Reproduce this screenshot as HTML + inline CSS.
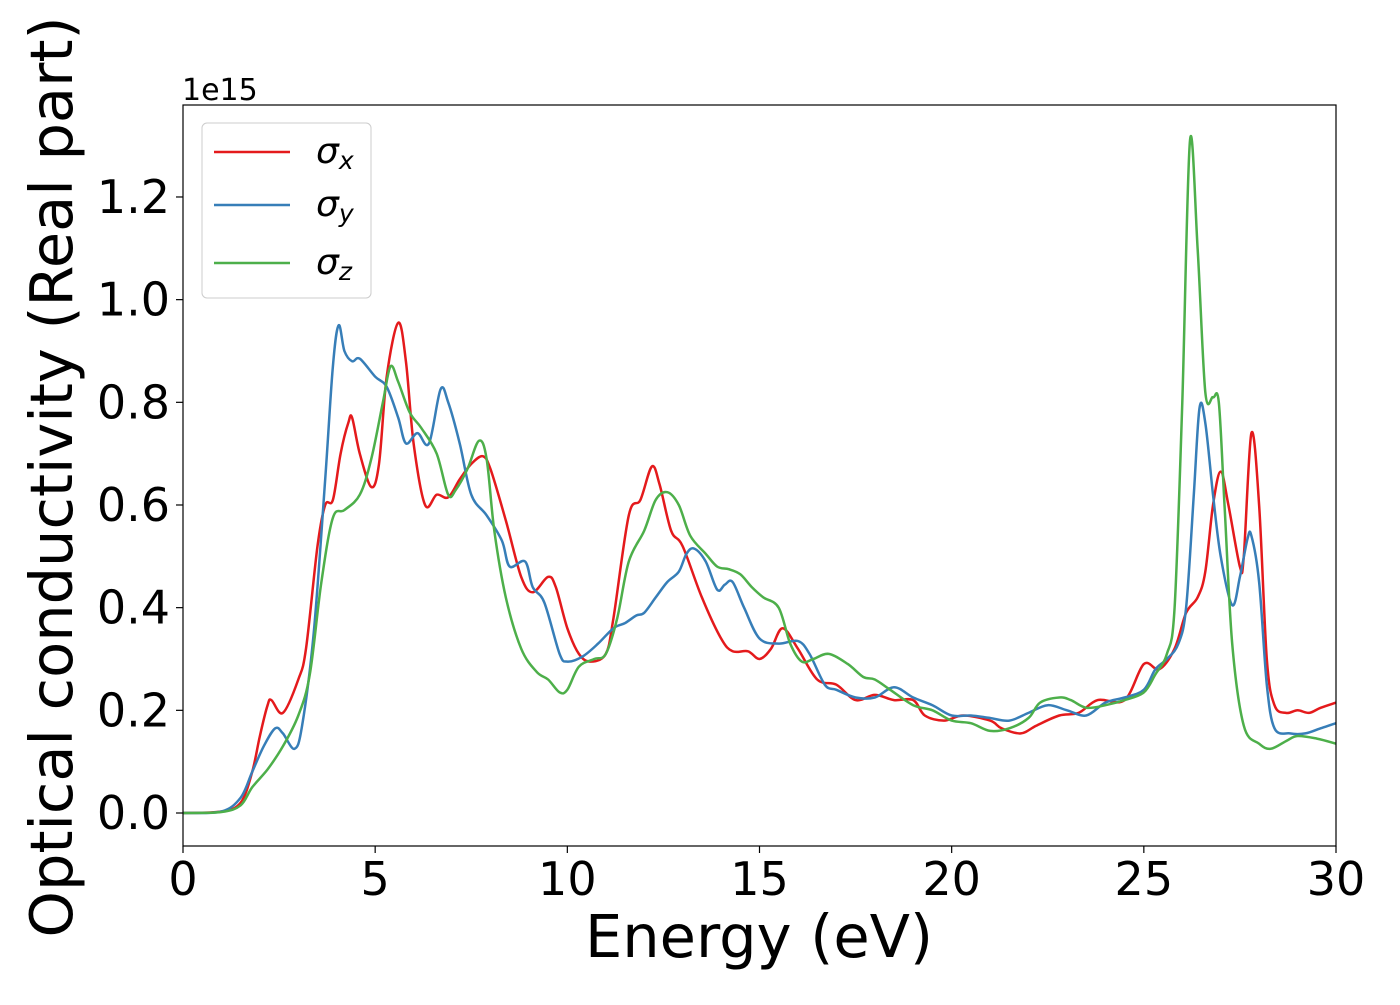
<!DOCTYPE html>
<html><head><meta charset="utf-8"><style>
body{margin:0;background:#fff;}
svg text{font-family:"DejaVu Sans","Liberation Sans",sans-serif;fill:#000;}
</style></head><body>
<svg id="chart" width="1400" height="1000" xmlns="http://www.w3.org/2000/svg">
<g id="plot"></g>
</svg>
<script>
const xTicks=[0,5,10,15,20,25,30];
const yTicks=[0,0.2,0.4,0.6,0.8,1.0,1.2];
const yTickLabels=["0.0","0.2","0.4","0.6","0.8","1.0","1.2"];
const seriesNames=["σx","σy","σz"];
const energyX=[0,1,1.5,1.8,2.0,2.2,2.3,2.6,3.0,3.2,3.5,3.7,3.9,4.1,4.3,4.4,4.6,4.9,5.1,5.3,5.6,5.8,6.0,6.3,6.6,6.9,7.2,7.5,7.8,8.0,8.4,8.8,9.1,9.5,9.7,10.0,10.3,10.6,11.0,11.2,11.6,11.9,12.2,12.4,12.7,13.0,13.5,14.0,14.3,14.7,15.0,15.3,15.6,16.0,16.5,17.0,17.5,18.0,18.5,19.0,19.3,19.8,20.3,21.0,21.3,21.8,22.2,22.8,23.3,23.8,24.5,25.0,25.4,25.8,26.1,26.4,26.6,26.8,27.0,27.2,27.5,27.6,27.8,28.0,28.2,28.4,28.7,29.0,29.3,29.6,30];
const sigmaX=[0,0.003,0.02,0.08,0.15,0.21,0.22,0.195,0.26,0.32,0.52,0.60,0.61,0.70,0.76,0.77,0.70,0.635,0.68,0.85,0.955,0.88,0.72,0.60,0.62,0.615,0.65,0.68,0.695,0.67,0.57,0.46,0.43,0.46,0.44,0.36,0.31,0.295,0.31,0.38,0.58,0.61,0.675,0.64,0.55,0.52,0.42,0.34,0.315,0.315,0.30,0.32,0.36,0.32,0.26,0.25,0.22,0.23,0.22,0.22,0.19,0.18,0.19,0.18,0.165,0.155,0.17,0.19,0.195,0.22,0.22,0.29,0.28,0.32,0.39,0.42,0.47,0.60,0.665,0.60,0.48,0.50,0.74,0.60,0.30,0.21,0.195,0.20,0.195,0.205,0.215];
const energyY=[0,1,1.5,1.8,2.1,2.4,2.6,2.9,3.1,3.4,3.7,3.9,4.05,4.2,4.4,4.6,5.0,5.3,5.6,5.8,6.1,6.4,6.7,6.9,7.2,7.5,7.9,8.3,8.5,8.9,9.1,9.4,9.8,10.0,10.4,10.8,11.2,11.5,11.8,12.0,12.3,12.6,12.9,13.1,13.3,13.6,13.9,14.1,14.3,14.6,15.0,15.5,16.0,16.3,16.7,17.0,17.5,18.0,18.5,19.0,19.5,20.0,20.5,21.0,21.5,22.0,22.5,23.0,23.5,24.0,24.5,25.0,25.3,25.6,25.9,26.1,26.3,26.45,26.6,26.8,27.0,27.3,27.5,27.7,27.8,28.0,28.2,28.4,28.8,29.2,29.6,30];
const sigmaY=[0,0.003,0.03,0.08,0.13,0.165,0.155,0.125,0.17,0.35,0.65,0.87,0.95,0.90,0.88,0.885,0.85,0.83,0.77,0.72,0.74,0.72,0.825,0.80,0.72,0.62,0.58,0.53,0.48,0.49,0.44,0.41,0.31,0.295,0.305,0.33,0.36,0.37,0.385,0.39,0.42,0.45,0.47,0.505,0.515,0.49,0.435,0.445,0.45,0.40,0.34,0.33,0.335,0.31,0.25,0.24,0.225,0.225,0.245,0.225,0.21,0.19,0.19,0.185,0.18,0.195,0.21,0.20,0.19,0.215,0.225,0.24,0.28,0.30,0.33,0.40,0.62,0.79,0.76,0.62,0.50,0.405,0.46,0.535,0.54,0.45,0.25,0.165,0.155,0.155,0.165,0.175];
const energyZ=[0,1,1.5,1.8,2.2,2.6,3.0,3.3,3.6,3.9,4.2,4.6,4.9,5.2,5.4,5.6,5.9,6.2,6.6,6.9,7.1,7.4,7.7,7.9,8.1,8.4,8.8,9.2,9.5,9.8,10.0,10.3,10.7,11.0,11.3,11.6,12.0,12.3,12.6,12.9,13.2,13.6,13.9,14.2,14.5,14.8,15.1,15.5,15.8,16.1,16.4,16.8,17.3,17.7,18.0,18.4,19.0,19.5,20.0,20.5,21.0,21.5,22.0,22.3,22.8,23.1,23.5,24.0,24.5,25.0,25.3,25.6,25.8,26.0,26.2,26.4,26.6,26.8,26.95,27.1,27.3,27.6,28.0,28.3,28.7,29.0,29.5,30];
const sigmaZ=[0,0.002,0.015,0.05,0.085,0.13,0.19,0.27,0.45,0.575,0.59,0.62,0.69,0.80,0.87,0.84,0.78,0.75,0.70,0.62,0.63,0.67,0.725,0.69,0.55,0.42,0.32,0.275,0.26,0.235,0.24,0.285,0.30,0.31,0.38,0.49,0.55,0.61,0.625,0.60,0.54,0.505,0.48,0.475,0.465,0.44,0.42,0.40,0.33,0.295,0.30,0.31,0.29,0.265,0.26,0.24,0.21,0.20,0.18,0.175,0.16,0.165,0.185,0.215,0.225,0.22,0.205,0.21,0.22,0.235,0.27,0.31,0.40,0.80,1.31,1.10,0.82,0.81,0.80,0.60,0.33,0.17,0.135,0.125,0.14,0.15,0.145,0.135];

const L=183,R=1336,T=105,B=846;
const xs=v=>L+(v-0)/30*(R-L);
const ys=v=>813-v/0.2*102.67;
const NS="http://www.w3.org/2000/svg";
const svg=document.getElementById('chart');
function mk(tag,attrs,parent){const e=document.createElementNS(NS,tag);for(const k in attrs)e.setAttribute(k,attrs[k]);(parent||svg).appendChild(e);return e;}
function pathD(xa,ya){
  const p=xa.map((x,i)=>[xs(x),ys(ya[i])]);
  let d="M"+p[0][0].toFixed(1)+","+p[0][1].toFixed(1);
  for(let i=0;i<p.length-1;i++){
    const p0=p[i-1]||p[i],p1=p[i],p2=p[i+1],p3=p[i+2]||p2;
    const c1=[p1[0]+(p2[0]-p0[0])/6,p1[1]+(p2[1]-p0[1])/6];
    const c2=[p2[0]-(p3[0]-p1[0])/6,p2[1]-(p3[1]-p1[1])/6];
    d+=" C"+c1[0].toFixed(1)+","+c1[1].toFixed(1)+" "+c2[0].toFixed(1)+","+c2[1].toFixed(1)+" "+p2[0].toFixed(1)+","+p2[1].toFixed(1);
  }
  return d;
}
const plot=document.getElementById('plot');
const defs=mk('defs',{});
const cp=mk('clipPath',{id:'clip'},defs);
mk('rect',{x:L,y:T,width:R-L,height:B-T},cp);
const g=mk('g',{'clip-path':'url(#clip)'},plot);
const colors=["#e41a1c","#377eb8","#4daf4a"];
const sets=[[energyX,sigmaX],[energyY,sigmaY],[energyZ,sigmaZ]];
const names=['sigma-x-line','sigma-y-line','sigma-z-line'];
sets.forEach((s,i)=>{
  const p=mk('path',{d:pathD(s[0],s[1]),fill:'none',stroke:colors[i],'stroke-width':2.5},g);
  
  
});
const frame=mk('rect',{x:L,y:T,width:R-L,height:B-T,fill:'none',stroke:'#000','stroke-width':1.2});


xTicks.forEach(v=>{
  const tk=mk('line',{x1:xs(v),x2:xs(v),y1:B,y2:B+7,stroke:'#000','stroke-width':1.2});
  
  
  const t=mk('text',{x:xs(v),y:895,'text-anchor':'middle','font-size':46});
  t.textContent=v;
  
  
});
yTicks.forEach((v,i)=>{
  const tk=mk('line',{x1:L-7,x2:L,y1:ys(v),y2:ys(v),stroke:'#000','stroke-width':1.2});
  
  
  const t=mk('text',{x:170,y:ys(v)+16,'text-anchor':'end','font-size':46});
  t.textContent=yTickLabels[i];
  
  
});
</script>
<svg style="position:absolute;left:0;top:0" width="1400" height="1000" xmlns="http://www.w3.org/2000/svg">
<text x="182" y="100" font-size="30">1e15</text>
<text x="759" y="957" text-anchor="middle" font-size="59">Energy (eV)</text>
<text transform="translate(72,477) rotate(-90)" text-anchor="middle" font-size="59">Optical conductivity (Real part)</text>
<g>
<rect x="202" y="123" width="169" height="175" rx="5" fill="#fff" fill-opacity="0.8" stroke="#ccc" stroke-width="1"/>
<line x1="214" y1="152" x2="290" y2="152" stroke="#e41a1c" stroke-width="2.5"/>
<line x1="214" y1="205" x2="290" y2="205" stroke="#377eb8" stroke-width="2.5"/>
<line x1="214" y1="263" x2="290" y2="263" stroke="#4daf4a" stroke-width="2.5"/>
<text x="316" y="163" font-size="36" font-style="italic">σ<tspan font-size="25" dy="6">x</tspan></text>
<text x="316" y="216" font-size="36" font-style="italic">σ<tspan font-size="25" dy="6">y</tspan></text>
<text x="316" y="274" font-size="36" font-style="italic">σ<tspan font-size="25" dy="6">z</tspan></text>
</g>
</svg>
</body></html>
